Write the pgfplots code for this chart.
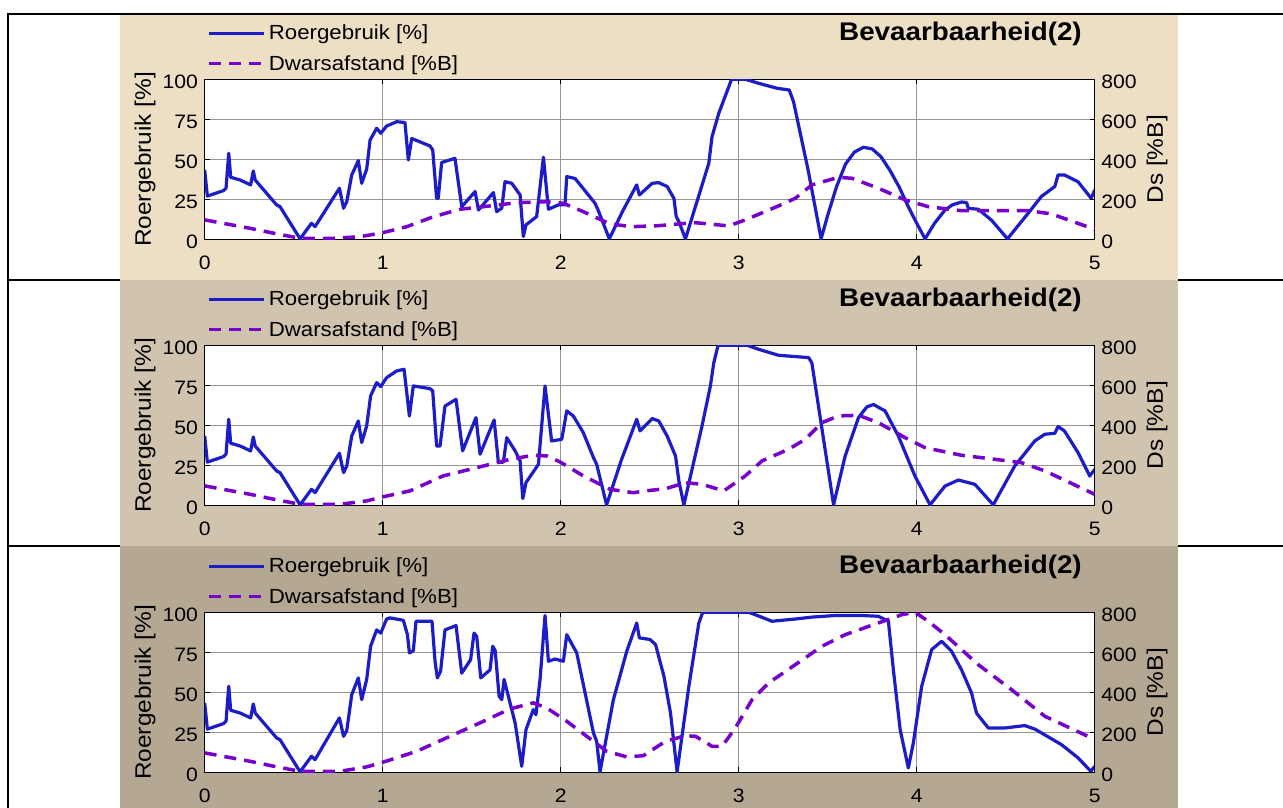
\documentclass[border=0pt]{standalone}
\usepackage{fontspec}
\setmainfont{Liberation Sans}[FakeStretch=1.09]
\usepackage{pgfplots}
\usepackage{pgfplotstable}
\pgfplotsset{compat=1.18}
\definecolor{bgA}{RGB}{237,223,196}
\definecolor{bgB}{RGB}{208,196,174}
\definecolor{bgC}{RGB}{180,168,146}
\definecolor{rblue}{RGB}{28,28,200}
\definecolor{dpurp}{RGB}{118,0,205}
\definecolor{gridc}{RGB}{150,150,150}
\newcommand\tickfont{\fontsize{19.5}{21}\selectfont}
\newcommand\labelfont{\fontsize{22.5}{25}\selectfont}
\newcommand\legfont{\fontsize{20.5}{23}\selectfont}
\newcommand\titfont{\fontsize{25.6}{28}\selectfont\bfseries}

\pgfplotstableread{
x y
0 43.3
0.015 27
0.105 30.4
0.12 32
0.135 53.8
0.146 38.8
0.2 37
0.258 34
0.273 42.7
0.284 37
0.404 21.5
0.423 20.4
0.536 0.3
0.6 10
0.62 7.9
0.757 31.9
0.78 19.4
0.798 23.5
0.826 40.2
0.863 49.2
0.882 35
0.91 43.8
0.929 62
0.966 69.4
0.989 66.3
1.022 70.8
1.079 73.5
1.125 73
1.144 49.6
1.163 63
1.266 58.3
1.281 55.8
1.303 25.6
1.312 25.6
1.331 48
1.406 50.6
1.444 20.4
1.519 29.8
1.538 18.3
1.622 29.2
1.64 17.3
1.669 19.4
1.687 36
1.725 35
1.772 27.7
1.79 1.7
1.805 9
1.865 14.2
1.903 51.3
1.931 18.75
1.987 21.5
2.024 21.5
2.034 39.2
2.081 38
2.193 22.5
2.21 18.3
2.273 0.3
2.35 18
2.427 34
2.442 27.7
2.514 35
2.551 35.4
2.598 33
2.636 25.6
2.649 14.2
2.664 11
2.701 0.3
2.832 47.5
2.85 64
2.888 78.75
2.96 100
3.037 100
3.112 97.5
3.215 94.4
3.284 93.3
3.308 86
3.39 43.3
3.463 0.3
3.5 15
3.55 33
3.6 47
3.65 54.5
3.7 57.5
3.75 56.5
3.8 51.5
3.85 43
3.9 33
3.95 21
4.0 10
4.047 0.3
4.1 10
4.159 18.3
4.2 21.5
4.252 23.3
4.28 23
4.29 19.4
4.346 18.75
4.42 12
4.51 0.3
4.626 16.25
4.7 26.7
4.776 33
4.794 40.2
4.83 40.2
4.906 36
4.98 25.6
5.0 30.8
}\rA
\pgfplotstableread{
x y
0 97
0.255 55
0.4 28
0.536 5
0.723 5
0.873 13
1.0 33
1.135 63
1.285 113
1.434 150
1.566 163
1.753 183
1.921 188
2.015 180
2.127 138
2.277 77
2.4 63
2.55 68
2.664 77
2.757 83
2.85 75
2.944 67
3.037 97
3.224 167
3.318 205
3.411 272
3.561 310
3.636 305
3.785 255
3.935 197
4.065 163
4.252 143
4.44 143
4.626 143
4.757 127
5.0 50
}\dA
\pgfplotstableread{
x y
0 43.3
0.015 27
0.105 30.4
0.12 32
0.135 53.8
0.146 38.8
0.2 37
0.258 34
0.273 42.7
0.284 37
0.404 21.5
0.423 20.4
0.536 0.3
0.6 10
0.62 7.9
0.757 32.5
0.78 20.4
0.798 24.5
0.826 43.3
0.863 52.7
0.882 39.2
0.91 49.6
0.932 68.3
0.966 76.7
0.989 74.2
1.022 79.8
1.079 84
1.12 85
1.15 55.8
1.172 74.6
1.266 72.9
1.281 71.5
1.303 37
1.322 37
1.35 62
1.412 66.25
1.449 34
1.524 54.8
1.547 31.9
1.626 53.3
1.65 26.7
1.678 27
1.697 42.3
1.744 34
1.772 27.7
1.787 4.2
1.805 14.2
1.875 25.6
1.912 74.6
1.949 40.2
2.006 41.25
2.034 59
2.071 55.8
2.127 45.4
2.184 29.8
2.202 25.6
2.258 0.3
2.34 28
2.427 53.75
2.446 46.5
2.514 54.2
2.551 52.7
2.598 43.3
2.645 30.8
2.664 15.2
2.692 0.3
2.794 49.6
2.841 74.6
2.86 89
2.884 100
3.047 100
3.112 97.5
3.224 93.75
3.393 92.3
3.411 89
3.533 0.3
3.598 30.8
3.673 54.8
3.72 61.5
3.757 63
3.822 59
3.897 43.3
3.99 18.3
4.075 0.3
4.159 12
4.234 15.8
4.327 13.1
4.43 0.3
4.551 24.6
4.663 40.2
4.72 44.4
4.776 45
4.794 49.2
4.83 46.5
4.906 33
4.972 18.3
5.0 22.5
}\rB
\pgfplotstableread{
x y
0 97
0.255 55
0.4 28
0.536 5
0.76 5
0.91 22
1.0 42
1.153 72
1.34 147
1.528 188
1.715 230
1.846 250
1.921 247
1.996 217
2.127 147
2.277 80
2.408 63
2.477 72
2.589 83
2.701 113
2.794 105
2.916 72
3.037 147
3.131 222
3.28 280
3.374 330
3.467 413
3.561 447
3.673 450
3.785 413
3.935 338
4.047 288
4.252 250
4.44 230
4.589 213
4.72 172
5.0 55
}\dB
\pgfplotstableread{
x y
0 43.3
0.015 27
0.105 30.4
0.12 32
0.135 53.8
0.146 38.8
0.2 37
0.258 34
0.273 42.7
0.284 37
0.404 21.5
0.423 20.4
0.536 0.3
0.6 10
0.62 7.9
0.757 34
0.78 22.5
0.798 26
0.826 48.5
0.863 59
0.882 45.4
0.91 58
0.932 78.75
0.966 89
0.989 87
1.022 95.8
1.041 96.5
1.116 95
1.139 86
1.15 74.6
1.172 76
1.187 94.4
1.277 94.4
1.294 69.4
1.307 59
1.325 63
1.35 89
1.412 91.7
1.444 62
1.494 70.4
1.513 87
1.528 85
1.551 59
1.603 64
1.618 78.75
1.632 76
1.654 47.5
1.669 45.4
1.682 58
1.706 47.5
1.744 30.8
1.781 3.75
1.805 26.7
1.846 39.2
1.861 36
1.884 58
1.912 98
1.931 69.4
1.968 70.8
1.996 70
2.015 69.4
2.034 86
2.09 74.6
2.184 24.6
2.202 19.4
2.221 0.3
2.296 45.4
2.371 75.6
2.427 93.3
2.442 84
2.502 83
2.533 79.8
2.58 60
2.617 37
2.654 0.3
2.72 53.75
2.776 93.3
2.798 100
3.056 100
3.093 98.5
3.187 94.4
3.318 95.8
3.411 97
3.542 98
3.692 98
3.785 97.5
3.841 94.4
3.869 64
3.907 26.7
3.953 2.7
3.981 18.3
4.028 53.75
4.084 76.7
4.14 81.9
4.196 75.6
4.252 64
4.308 49.6
4.336 37
4.402 27.7
4.495 27.7
4.607 29.2
4.664 27
4.813 17.3
4.907 9
4.978 0.6
5.0 3.75
}\rC
\pgfplotstableread{
x y
0 97
0.255 55
0.4 28
0.536 5
0.76 5
0.91 27
1.0 50
1.191 105
1.378 180
1.566 255
1.715 317
1.846 347
1.921 322
2.034 255
2.184 155
2.258 105
2.371 77
2.464 83
2.502 105
2.589 155
2.701 183
2.757 180
2.85 130
2.907 130
2.981 222
3.075 363
3.168 447
3.318 538
3.467 630
3.598 688
3.785 747
3.916 788
3.991 800
4.065 755
4.159 688
4.346 538
4.533 413
4.72 280
4.981 172
}\dC

\pgfplotsset{
  panelbase/.style={
    scale only axis, width=890bp, height=160bp,
    anchor=south west,
    xmin=0, xmax=5, xtick={0,1,2,3,4,5},
    tick align=inside, major tick length=5bp,
    every tick/.style={black, line width=0.8bp},
    axis line style={black, line width=1.1bp},
    tick label style={font=\tickfont},
    /pgf/number format/assume math mode=true,
  },
  leftax/.style={panelbase,
    ymin=0, ymax=100, ytick={0,25,50,75,100},
    ytick pos=left, xtick pos=both,
    grid=major, grid style={gridc, line width=0.9bp},
    axis background/.style={fill=white},
    xticklabel style={inner sep=0pt, anchor=north, yshift=-16.5bp},
    yticklabel style={inner sep=0pt, anchor=east, xshift=-6.5bp, yshift=-3bp},
    ylabel={Roergebruik [\%]},
    ylabel style={at={(rel axis cs:0,0.5)}, anchor=center, rotate=0, yshift=59.7bp, font=\labelfont, inner sep=0pt},
    title={Bevaarbaarheid(2)},
    title style={at={(rel axis cs:0.9857,1)}, anchor=base east, yshift=32.5bp, inner sep=0pt, font=\titfont},
    legend style={draw=none, fill=none, at={(rel axis cs:0,1)}, anchor=west,
      xshift=2.6bp, yshift=31bp, inner sep=0pt, outer sep=0pt,
      row sep=13.9bp, column sep=3bp, font=\legfont, nodes={inner sep=0pt}},
    legend cell align=left,
    legend image code/.code={\draw[##1] (0bp,0bp) -- (55bp,0bp);},
  },
  rightax/.style={panelbase,
    axis y line*=right, axis x line=none,
    ymin=0, ymax=800, ytick={0,200,400,600,800},
    yticklabel style={inner sep=0pt, anchor=west, xshift=6.5bp, yshift=-3bp},
    ylabel={Ds [\%B]},
    ylabel style={at={(rel axis cs:1,0.5)}, anchor=center, rotate=0, yshift=-62.3bp, font=\labelfont, inner sep=0pt},
  },
  rstyle/.style={rblue, line width=3.2bp, line join=round},
  dstyle/.style={dpurp, line width=3.5bp, dash pattern=on 12bp off 8bp},
}

\begin{document}
\begin{tikzpicture}
\path[use as bounding box] (0bp,0bp) rectangle (1283bp,808bp);
\fill[white] (0bp,0bp) rectangle (1283bp,808bp);
\draw[line width=2bp] (8bp,0bp) -- (8bp,795bp);
\draw[line width=2bp] (7bp,794bp) -- (1283bp,794bp);
\draw[line width=2bp] (7bp,528bp) -- (1283bp,528bp);
\draw[line width=2bp] (7bp,262bp) -- (1283bp,262bp);
\fill[bgA] (120bp,528bp) rectangle (1178bp,793bp);
\fill[bgB] (120bp,262bp) rectangle (1178bp,528bp);
\fill[bgC] (120bp,0bp) rectangle (1178bp,262bp);

% Panel 1
\begin{axis}[leftax, at={(204.7bp,568.7bp)}]
\addplot[rstyle] table[x=x,y=y] {\rA};
\addlegendentry{Roergebruik [\%]}
\addlegendimage{dstyle}
\addlegendentry{Dwarsafstand [\%B]}
\end{axis}
\begin{axis}[rightax, at={(204.7bp,568.7bp)}]
\addplot[dstyle] table[x=x,y=y] {\dA};
\end{axis}

% Panel 2
\begin{axis}[leftax, at={(204.7bp,302.7bp)}]
\addplot[rstyle] table[x=x,y=y] {\rB};
\addlegendentry{Roergebruik [\%]}
\addlegendimage{dstyle}
\addlegendentry{Dwarsafstand [\%B]}
\end{axis}
\begin{axis}[rightax, at={(204.7bp,302.7bp)}]
\addplot[dstyle] table[x=x,y=y] {\dB};
\end{axis}

% Panel 3
\begin{axis}[leftax, at={(204.7bp,35.7bp)}]
\addplot[rstyle] table[x=x,y=y] {\rC};
\addlegendentry{Roergebruik [\%]}
\addlegendimage{dstyle}
\addlegendentry{Dwarsafstand [\%B]}
\end{axis}
\begin{axis}[rightax, at={(204.7bp,35.7bp)}]
\addplot[dstyle] table[x=x,y=y] {\dC};
\end{axis}
\end{tikzpicture}
\end{document}
